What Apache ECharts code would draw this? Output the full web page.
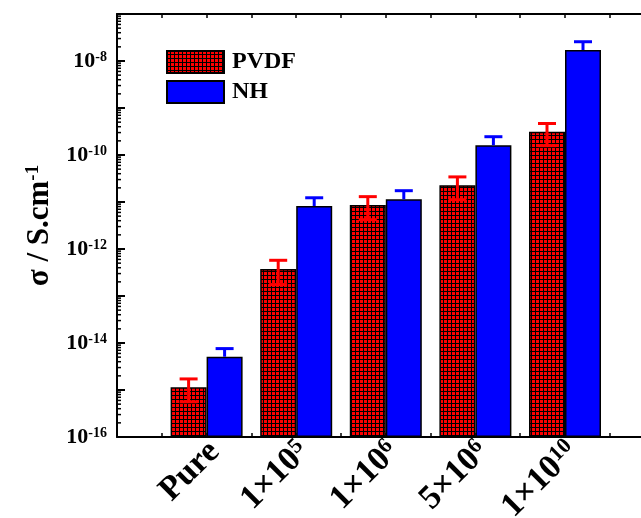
<!DOCTYPE html>
<html><head><meta charset="utf-8">
<script src="https://cdn.jsdelivr.net/npm/echarts@6/dist/echarts.min.js"></script>
<style>html,body{margin:0;padding:0;background:#fff}#c{width:641px;height:518px}</style>
</head><body><div id="c"></div>
<script>
// ---- data ----
const catBase = ['Pure', '1×10', '1×10', '5×10', '1×10'];
const catExp  = ['', '5', '6', '6', '10'];
const catPos  = [1, 2, 3, 4, 5];
const pvdf    = [1.14e-15, 3.75e-13, 8.6e-12, 2.27e-11, 3.13e-10];
const pvdfErr = [0.58e-15, 2.0e-13, 4.4e-12, 1.15e-11, 1.55e-10];
const nh      = [5.1e-15, 8.2e-12, 1.14e-11, 1.61e-10, 1.71e-8];
const nhErr   = [2.5e-15, 4.1e-12, 6.0e-12, 8.4e-11, 8.6e-9];
const yLabelExps = [-16, -14, -12, -10, -8];
const minorDecades = [-16, -15, -14, -13, -12, -11, -10, -9, -8];
const minorMults = [2, 3, 4, 5, 6, 7, 8, 9];
const yMin = 1e-16, yMax = 1e-7;

const FONT = 'Liberation Serif';
const BAR_W = 36;

function makePattern() {
  const c = document.createElement('canvas');
  c.width = 4; c.height = 4;
  const g = c.getContext('2d');
  g.fillStyle = '#ff0000'; g.fillRect(0, 0, 4, 4);
  g.fillStyle = '#000000';
  g.fillRect(3, 0, 1, 4);
  g.fillRect(0, 3, 4, 1);
  return c;
}
const pattern = { image: makePattern(), repeat: 'repeat' };

const minorData = [];
minorDecades.forEach(d => minorMults.forEach(m => minorData.push([0, m * Math.pow(10, d)])));

function errRender(offset, color, both) {
  return function (params, api) {
    const x = api.value(0), v = api.value(1), e = api.value(2);
    const pt = api.coord([x, v + e]);
    const pb = api.coord([x, both ? v - e : v]);
    const cx = pt[0] + offset;
    const style = { stroke: color, lineWidth: 3 };
    const children = [
      { type: 'line', shape: { x1: cx, y1: pt[1], x2: cx, y2: pb[1] }, style },
      { type: 'line', shape: { x1: cx - 9, y1: pt[1], x2: cx + 9, y2: pt[1] }, style }
    ];
    if (both) children.push({ type: 'line', shape: { x1: cx - 9, y1: pb[1], x2: cx + 9, y2: pb[1] }, style });
    return { type: 'group', children };
  };
}

const chart = echarts.init(document.getElementById('c'));
chart.setOption({
  animation: false,
  backgroundColor: '#fff',
  grid: { left: 117, top: 14, bottom: 81, right: -13.6, containLabel: false, outerBoundsMode: 'none' },
  legend: {
    data: ['PVDF', 'NH'], orient: 'vertical', left: 166, top: 50, padding: 0,
    itemWidth: 57, itemHeight: 22, itemGap: 6, icon: 'rect',
    textStyle: { fontFamily: FONT, fontWeight: 'bold', fontSize: 24, color: '#000', padding: [0, 0, 0, 3] }
  },
  xAxis: [{
    type: 'value', min: 0, max: 6, interval: 0.5, position: 'bottom',
    axisLine: { lineStyle: { color: '#000', width: 2 } },
    axisTick: { inside: true, length: 4, lineStyle: { color: '#000', width: 1.5 } },
    splitLine: { show: false },
    axisLabel: {
      rotate: 45, margin: 2, padding: [22, 0, 0, 0], color: '#000',
      formatter: function (v) {
        const i = catPos.indexOf(v);
        if (i < 0) return '';
        return catExp[i] ? '{b|' + catBase[i] + '}{s|' + catExp[i] + '}' : '{b|' + catBase[i] + '}';
      },
      rich: {
        b: { fontFamily: FONT, fontWeight: 'bold', fontSize: 34, color: '#000' },
        s: { fontFamily: FONT, fontWeight: 'bold', fontSize: 22, color: '#000', verticalAlign: 'top' }
      }
    }
  }, {
    type: 'value', min: 0, max: 6, interval: 0.5, position: 'top',
    axisLine: { lineStyle: { color: '#000', width: 2 } },
    axisTick: { inside: true, length: 4, lineStyle: { color: '#000', width: 1.5 } },
    splitLine: { show: false }, axisLabel: { show: false }
  }],
  yAxis: {
    type: 'log', logBase: 10, min: yMin, max: yMax, interval: 1, startValue: yMin,
    name: '{a|σ / S.cm}{s|-1}', nameLocation: 'middle', nameGap: 62,
    nameTextStyle: {
      rich: {
        a: { fontFamily: FONT, fontWeight: 'bold', fontSize: 31, color: '#000' },
        s: { fontFamily: FONT, fontWeight: 'bold', fontSize: 19, color: '#000', verticalAlign: 'top' }
      }
    },
    axisLine: { lineStyle: { color: '#000', width: 2 } },
    axisTick: { inside: true, length: 8, lineStyle: { color: '#000', width: 2 } },
    splitLine: { show: false },
    axisLabel: {
      margin: 10, color: '#000',
      formatter: function (v) {
        const e = Math.round(Math.log10(v));
        if (yLabelExps.indexOf(e) < 0) return '';
        return '{b|10}{s|' + e + '}';
      },
      rich: {
        b: { fontFamily: FONT, fontWeight: 'bold', fontSize: 22, color: '#000' },
        s: { fontFamily: FONT, fontWeight: 'bold', fontSize: 14, color: '#000', verticalAlign: 'top' }
      }
    }
  },
  series: [{
    name: 'PVDF', type: 'bar', barWidth: BAR_W, barGap: '0%',
    data: pvdf.map((v, i) => [catPos[i], v]),
    itemStyle: { color: pattern, borderColor: '#000', borderWidth: 1.5 }
  }, {
    name: 'NH', type: 'bar', barWidth: BAR_W, barGap: '0%',
    data: nh.map((v, i) => [catPos[i], v]),
    itemStyle: { color: '#0000ff', borderColor: '#000', borderWidth: 1.5 }
  }, {
    type: 'custom', z: 5, renderItem: errRender(-BAR_W / 2, '#ff0000', true),
    data: pvdf.map((v, i) => [catPos[i], v, pvdfErr[i]])
  }, {
    type: 'custom', z: 5, renderItem: errRender(BAR_W / 2, '#0000ff', false),
    data: nh.map((v, i) => [catPos[i], v, nhErr[i]])
  }, {
    type: 'custom', z: 6, silent: true,
    renderItem: function (params, api) {
      const p = api.coord([api.value(0), api.value(1)]);
      return { type: 'line', shape: { x1: p[0], y1: p[1], x2: p[0] + 4, y2: p[1] }, style: { stroke: '#000', lineWidth: 1.5 } };
    },
    data: minorData
  }]
});
</script>
</body></html>
